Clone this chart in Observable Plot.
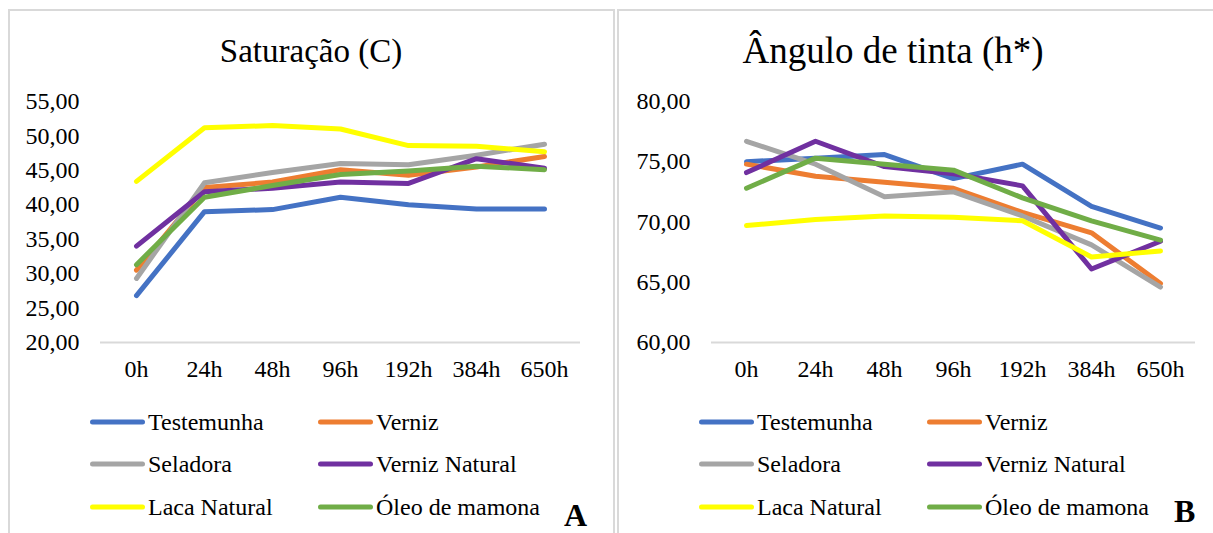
<!DOCTYPE html>
<html>
<head>
<meta charset="utf-8">
<script src="https://cdn.jsdelivr.net/npm/d3@7"></script>
<script src="https://cdn.jsdelivr.net/npm/@observablehq/plot@0.6"></script>
<style>
  html, body { margin: 0; padding: 0; background: #fff; }
  #page { position: relative; width: 1213px; height: 533px; overflow: hidden; font-family: "Liberation Serif", "Times New Roman", serif; color: #000; }
  .panel { position: absolute; top: 9px; height: 540px; border: 2px solid #d9d9d9; box-sizing: border-box; }
  .title { position: absolute; font-size: 33px; white-space: nowrap; transform: translate(-50%, -50%); }
  .plot { position: absolute; top: 0; }
  .leg { position: absolute; font-size: 24px; white-space: nowrap; transform: translateY(-50%); display: flex; align-items: center; }
  .sw { display: inline-block; width: 55px; height: 5px; border-radius: 3px; margin-right: 3px; }
  .letter { position: absolute; font-weight: bold; font-size: 32px; transform: translateY(-50%); }
</style>
</head>
<body>
<div id="page">
  <div class="panel" style="left:8px; width:607px;"></div>
  <div class="panel" style="left:617px; width:610px;"></div>
</div>
<script>
// Categories
const times = ["0h", "24h", "48h", "96h", "192h", "384h", "650h"];
const seriesNames = ["Testemunha", "Verniz", "Seladora", "Verniz Natural", "Laca Natural", "Óleo de mamona"];
const seriesColors = ["#4472C4", "#ED7D31", "#A5A5A5", "#7030A0", "#FFFF00", "#70AD47"];

// Saturação (C)
const satTestemunha = [26.8, 39.0, 39.3, 41.1, 40.0, 39.4, 39.4];
const satVerniz = [30.5, 42.5, 43.3, 45.1, 44.3, 45.5, 47.0];
const satSeladora = [29.3, 43.2, 44.7, 46.0, 45.8, 47.2, 48.8];
const satVernizNatural = [34.0, 41.9, 42.4, 43.3, 43.1, 46.7, 45.3];
const satLacaNatural = [43.4, 51.2, 51.5, 51.0, 48.6, 48.5, 47.7];
const satOleo = [31.3, 41.1, 42.8, 44.4, 44.9, 45.6, 45.1];
const satTicks = [20, 25, 30, 35, 40, 45, 50, 55];

// Ângulo de tinta (h*)
const angTestemunha = [75.0, 75.3, 75.6, 73.6, 74.8, 71.3, 69.5];
const angVerniz = [74.8, 73.8, 73.3, 72.8, 70.8, 69.1, 64.9];
const angSeladora = [76.7, 74.8, 72.1, 72.5, 70.5, 68.1, 64.6];
const angVernizNatural = [74.1, 76.7, 74.6, 74.0, 73.0, 66.1, 68.4];
const angLacaNatural = [69.7, 70.2, 70.5, 70.4, 70.1, 67.1, 67.6];
const angOleo = [72.8, 75.3, 74.8, 74.3, 72.0, 70.1, 68.5];
const angTicks = [60, 65, 70, 75, 80];

function toRows(arrays) {
  const rows = [];
  arrays.forEach((vals, i) => vals.forEach((v, j) => rows.push({series: seriesNames[i], time: times[j], value: v})));
  return rows;
}
const satRows = toRows([satTestemunha, satVerniz, satSeladora, satVernizNatural, satLacaNatural, satOleo]);
const angRows = toRows([angTestemunha, angVerniz, angSeladora, angVernizNatural, angLacaNatural, angOleo]);

const fmt = d => d.toFixed(2).replace(".", ",");

function makePlot(rows, ticks, opts) {
  return Plot.plot({
    width: opts.width,
    height: 400,
    marginLeft: opts.marginLeft,
    marginRight: opts.marginRight,
    marginTop: 101,
    marginBottom: 58,
    style: {fontFamily: '"Liberation Serif", "Times New Roman", serif', fontSize: "24px", color: "#000", background: "transparent", overflow: "visible"},
    x: {type: "point", domain: times, padding: 0.5, label: null},
    y: {domain: [ticks[0], ticks[ticks.length - 1]], label: null},
    color: {domain: seriesNames, range: seriesColors},
    marks: [
      Plot.ruleY([ticks[0]], {stroke: "#d9d9d9", strokeWidth: 2}),
      Plot.axisY({ticks: ticks, tickFormat: fmt, tickSize: 0, tickPadding: 21, label: null, fill: "#000"}),
      Plot.axisX({tickSize: 0, tickPadding: 17, label: null, fill: "#000"}),
      Plot.lineY(rows, {x: "time", y: "value", z: "series", stroke: "series", strokeWidth: 5, strokeLinecap: "round", strokeLinejoin: "round", curve: "linear"})
    ]
  });
}

const page = document.getElementById("page");

const p1 = makePlot(satRows, satTicks, {width: 605, marginLeft: 100, marginRight: 25});
p1.classList.add("plot");
p1.style.left = "0px";
page.appendChild(p1);

const p2 = makePlot(angRows, angTicks, {width: 603, marginLeft: 101, marginRight: 18});
p2.classList.add("plot");
p2.style.left = "610px";
page.appendChild(p2);

function addText(cls, text, x, y, extra) {
  const d = document.createElement("div");
  d.className = cls;
  d.textContent = text;
  d.style.left = x + "px";
  d.style.top = y + "px";
  if (extra) Object.assign(d.style, extra);
  page.appendChild(d);
  return d;
}
addText("title", "Saturação (C)", 311, 51);
addText("title", "Ângulo de tinta (h*)", 893, 50, {fontSize: "37px"});

function addLegend(col1x, col2x) {
  const rowsY = [422, 464, 507];
  seriesNames.forEach((name, i) => {
    const x = i % 2 === 0 ? col1x : col2x;
    const y = rowsY[Math.floor(i / 2)];
    const d = document.createElement("div");
    d.className = "leg";
    d.style.left = x + "px";
    d.style.top = y + "px";
    const sw = document.createElement("span");
    sw.className = "sw";
    sw.style.background = seriesColors[i];
    d.appendChild(sw);
    d.appendChild(document.createTextNode(name));
    page.appendChild(d);
  });
}
addLegend(90, 318);
addLegend(699, 927);

addText("letter", "A", 564, 515);
addText("letter", "B", 1174, 511);
</script>
</body>
</html>
